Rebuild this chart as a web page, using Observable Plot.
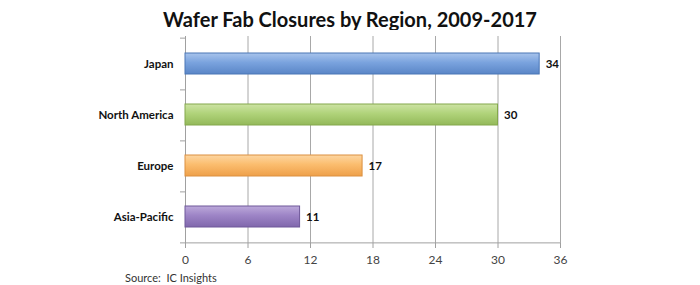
<!DOCTYPE html>
<html>
<head>
<meta charset="utf-8">
<script src="https://cdn.jsdelivr.net/npm/d3@7"></script>
<script src="https://cdn.jsdelivr.net/npm/@observablehq/plot@0.6"></script>
<style>
  html, body { margin: 0; padding: 0; background: #fff; }
  #wrap { width: 700px; height: 285px; position: relative; font-family: Lato, "Open Sans", sans-serif; }
  #title { position: absolute; left: 0; top: 6px; width: 700px; text-align: center; font-size: 20px; font-weight: bold; color: #111; line-height: 26px; }
  #chart { position: absolute; left: 0; top: 30px; }
  #source { position: absolute; left: 125px; top: 271px; font-size: 11px; color: #333; line-height: 14px; }
</style>
</head>
<body>
<div id="wrap">
  <div id="title">Wafer Fab Closures by Region, 2009-2017</div>
  <div id="chart"></div>
  <div id="source">Source:&nbsp; IC Insights</div>
</div>
<script>
const regions = ["Japan", "North America", "Europe", "Asia-Pacific"];
const closures = [34, 30, 17, 11];
const xTicks = [0, 6, 12, 18, 24, 30, 36];
const gradients = [
  {id: "gJ", top: "#a8c4ec", mid: "#7aa3de", bot: "#5a86c7", edge: "#4a76b6"},
  {id: "gN", top: "#cde3a4", mid: "#b0d37a", bot: "#93b95a", edge: "#84a84c"},
  {id: "gE", top: "#fdd6a2", mid: "#fbbd6e", bot: "#eea04a", edge: "#dc9040"},
  {id: "gA", top: "#bca9da", mid: "#9d84c6", bot: "#8067ac", edge: "#6f5899"}
];

const data = regions.map((r, i) => ({region: r, value: closures[i]}));

const W = 700, H = 240, mT = 6, mB = 27, mL = 185, mR = 140;
const step = (H - mT - mB) / regions.length;

const chart = Plot.plot({
  width: W,
  height: H,
  marginTop: mT,
  marginBottom: mB,
  marginLeft: mL,
  marginRight: mR,
  style: {fontFamily: "Lato, 'Open Sans', sans-serif", background: "#fff"},
  x: {domain: [0, 36], ticks: xTicks},
  y: {domain: regions, paddingInner: 0.59, paddingOuter: 0.295},
  color: {domain: regions, range: gradients.map(g => `url(#${g.id})`)},
  marks: [
    Plot.gridX(xTicks.filter(t => t > 0), {stroke: "#a8a8a8", strokeOpacity: 1, strokeWidth: 1}),
    Plot.ruleX([0], {stroke: "#a0a0a0", strokeWidth: 1}),
    Plot.ruleY([0], {y: () => regions[regions.length - 1], dy: step / 2, stroke: "#a0a0a0"}),
    Plot.axisX({ticks: xTicks, tickSize: 5, tickPadding: 7, fontSize: 12, stroke: "#a0a0a0", color: "#444", label: null}),
    Plot.axisY({tickSize: 0, tickPadding: 12, fontSize: 11.5, fontWeight: "bold", color: "#111", label: null}),
    Plot.axisY({tickSize: 5, text: null, dy: step / 2, stroke: "#a0a0a0", label: null}),
    Plot.axisY({ticks: [regions[0]], tickSize: 5, text: null, dy: -step / 2, stroke: "#a0a0a0", label: null}),
    Plot.barX(data, {x: "value", y: "region", fill: "region", strokeWidth: 1}),
    Plot.text(data, {x: "value", y: "region", text: d => String(d.value), textAnchor: "start", dx: 6, fontSize: 11.5, fontWeight: "bold", fill: "#111"})
  ]
});

// gradient defs for 3D-like bar look
const svgNS = "http://www.w3.org/2000/svg";
const defs = document.createElementNS(svgNS, "defs");
gradients.forEach(g => {
  const lg = document.createElementNS(svgNS, "linearGradient");
  lg.setAttribute("id", g.id);
  lg.setAttribute("x1", "0"); lg.setAttribute("y1", "0");
  lg.setAttribute("x2", "0"); lg.setAttribute("y2", "1");
  [[0, g.top], [0.45, g.mid], [1, g.bot]].forEach(([o, c]) => {
    const s = document.createElementNS(svgNS, "stop");
    s.setAttribute("offset", o);
    s.setAttribute("stop-color", c);
    lg.appendChild(s);
  });
  defs.appendChild(lg);
});
chart.insertBefore(defs, chart.firstChild);

// bar outlines use darker edge colours
d3.select(chart).selectAll("g[aria-label='bar'] rect").each(function(d, i) {
  this.setAttribute("stroke", gradients[i].edge);
});

document.getElementById("chart").appendChild(chart);
</script>
</body>
</html>
